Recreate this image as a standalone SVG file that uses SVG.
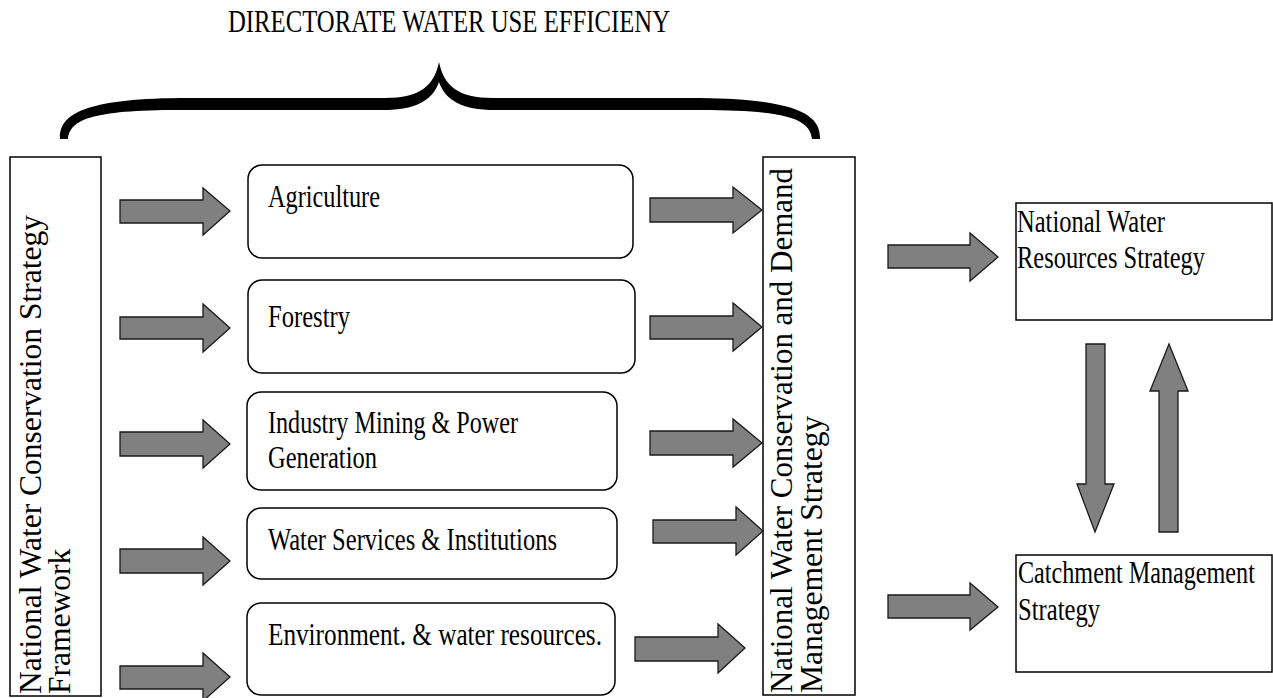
<svg xmlns="http://www.w3.org/2000/svg" width="1273" height="698" viewBox="0 0 1273 698">
  <style>
    .box { fill: #ffffff; stroke: #000000; stroke-width: 1.5; }
    .rbox { fill: #ffffff; stroke: #000000; stroke-width: 1.5; }
    .arrow { fill: #808080; stroke: #1a1a1a; stroke-width: 1.3; stroke-linejoin: miter; }
    .lbl { font-family: "Liberation Serif", "Times New Roman", serif; font-size: 31px; fill: #000000; }
    .vlbl { font-family: "Liberation Serif", "Times New Roman", serif; font-size: 31.5px; fill: #000000; }
  </style>

  <rect width="1273" height="698" fill="#ffffff"/>

  <!-- heading and brace grouping the sector boxes -->
  <g id="directorate">
    <text class="lbl" x="228" y="32" textLength="442" lengthAdjust="spacingAndGlyphs">DIRECTORATE WATER USE EFFICIENY</text>
    <path fill="#000000" d="M60,139 C59,116 80,99 180,98 L385,98 C420,98 434,86 439,62 C444,86 458,98 493,98 L700,98 C800,99 821,116 820,139 L812,139 C810,120 790,110 700,110 L495,110 C462,110 445,100 439,82 C433,100 416,110 383,110 L180,110 C90,110 70,120 68,139 Z"/>
  </g>

  <g id="framework">
    <rect class="box" x="10" y="157" width="91" height="539"/>
    <text class="vlbl" transform="translate(41,694) rotate(-90)">National Water Conservation Strategy</text>
    <text class="vlbl" transform="translate(70,694) rotate(-90)">Framework</text>
  </g>

  <g id="agriculture">
    <rect class="rbox" x="248" y="165" width="385" height="93" rx="14"/>
    <text class="lbl" x="268" y="207" textLength="112" lengthAdjust="spacingAndGlyphs">Agriculture</text>
  </g>

  <g id="forestry">
    <rect class="rbox" x="248" y="280" width="387" height="93" rx="14"/>
    <text class="lbl" x="268" y="327" textLength="82" lengthAdjust="spacingAndGlyphs">Forestry</text>
  </g>

  <g id="industry">
    <rect class="rbox" x="247" y="392" width="370" height="98" rx="14"/>
    <text class="lbl" x="268" y="433" textLength="250" lengthAdjust="spacingAndGlyphs">Industry Mining &amp; Power</text>
    <text class="lbl" x="268" y="468" textLength="109" lengthAdjust="spacingAndGlyphs">Generation</text>
  </g>

  <g id="water-services">
    <rect class="rbox" x="247" y="508" width="370" height="71" rx="14"/>
    <text class="lbl" x="268" y="550" textLength="289" lengthAdjust="spacingAndGlyphs">Water Services &amp; Institutions</text>
  </g>

  <g id="environment">
    <rect class="rbox" x="247" y="603" width="368" height="92" rx="14"/>
    <text class="lbl" x="268" y="645" textLength="334" lengthAdjust="spacingAndGlyphs">Environment. &amp; water resources.</text>
  </g>

  <g id="demand-management">
    <rect class="box" x="763" y="157" width="92" height="538"/>
    <text class="vlbl" transform="translate(792,693) rotate(-90)" textLength="525" lengthAdjust="spacingAndGlyphs">National Water Conservation and Demand</text>
    <text class="vlbl" transform="translate(822,693) rotate(-90)">Management Strategy</text>
  </g>

  <g id="water-resources">
    <rect class="box" x="1016" y="203" width="256" height="117" stroke-width="2"/>
    <text class="lbl" x="1017" y="232" textLength="148" lengthAdjust="spacingAndGlyphs">National Water</text>
    <text class="lbl" x="1017" y="268" textLength="188" lengthAdjust="spacingAndGlyphs">Resources Strategy</text>
  </g>

  <g id="catchment">
    <rect class="box" x="1016" y="555" width="256" height="117" stroke-width="2"/>
    <!-- narrowed with a horizontal scale so the line stays inside the box -->
    <text class="lbl" transform="translate(1018,583) scale(0.78,1)">Catchment Management</text>
    <text class="lbl" x="1018" y="620" textLength="82" lengthAdjust="spacingAndGlyphs">Strategy</text>
  </g>

  <!-- block arrows -->
  <g id="connectors">
    <!-- framework to sectors -->
    <polygon class="arrow" points="120,200 203,200 203,188 230,211 203,235 203,223 120,223"/>
    <polygon class="arrow" points="120,317 203,317 203,304 230,328 203,352 203,339 120,339"/>
    <polygon class="arrow" points="120,432 203,432 203,420 230,444 203,468 203,456 120,456"/>
    <polygon class="arrow" points="120,549 203,549 203,537 230,561 203,585 203,573 120,573"/>
    <polygon class="arrow" points="120,666 203,666 203,653 230,677 203,701 203,689 120,689"/>
    <!-- sectors to demand management strategy -->
    <polygon class="arrow" points="650,198 733,198 733,187 762,210 733,233 733,222 650,222"/>
    <polygon class="arrow" points="650,316 733,316 733,303 762,327 733,351 733,339 650,339"/>
    <polygon class="arrow" points="650,431 733,431 733,419 762,443 733,467 733,455 650,455"/>
    <polygon class="arrow" points="653,520 736,520 736,507 763,531 736,555 736,543 653,543"/>
    <polygon class="arrow" points="635,637 718,637 718,624 745,648 718,673 718,661 635,661"/>
    <!-- to the national strategies -->
    <polygon class="arrow" points="888,245 970,245 970,233 998,257 970,281 970,268 888,268"/>
    <polygon class="arrow" points="888,595 970,595 970,583 998,607 970,630 970,618 888,618"/>
    <!-- exchange between the two strategies -->
    <polygon class="arrow" points="1086,344 1105,344 1105,484 1114,484 1095,532 1077,484 1086,484"/>
    <polygon class="arrow" points="1159,532 1178,532 1178,391 1188,391 1169,344 1150,391 1159,391"/>
  </g>
</svg>
